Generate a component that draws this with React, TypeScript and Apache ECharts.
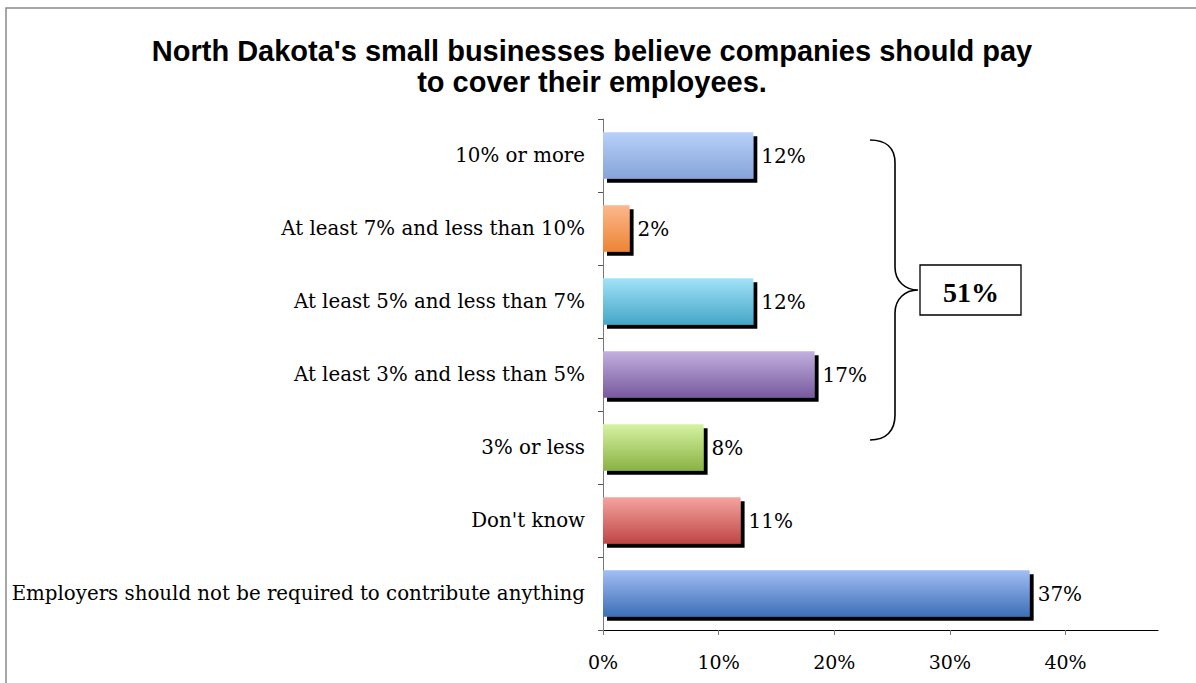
import React, { useEffect, useRef } from "react";
import * as echarts from "echarts";

const categories = [
  "10% or more",
  "At least 7% and less than 10%",
  "At least 5% and less than 7%",
  "At least 3% and less than 5%",
  "3% or less",
  "Don't know",
  "Employers should not be required to contribute anything",
];
// bar lengths as drawn (percent)
const barLengths = [13.0, 2.3, 13.0, 18.3, 8.7, 11.9, 36.9];
// printed value labels
const valueLabels = ["12%", "2%", "12%", "17%", "8%", "11%", "37%"];
const barTopColors = ["#b8d0fa", "#fbb88e", "#a2e2f9", "#c2b0de", "#d6f2a2", "#f6a4a0", "#a2bef5"];
const barBottomColors = ["#86a4d8", "#ee8434", "#44a6c6", "#77599e", "#8ab244", "#be4644", "#3c6eb6"];
const xTicks = [0, 10, 20, 30, 40];
const bracketTotal = "51%";
const title = "North Dakota's small businesses believe companies should pay\nto cover their employees.";

const bracePath =
  "M870,140 C886,140 895,148 895,163 L895,267 C895,281 905,290 918,290 C905,290 895,299 895,313 L895,415 C895,431 886,440 870,440";

let registered = false;

export default function App() {
  const ref = useRef<HTMLDivElement>(null);
  useEffect(() => {
    if (!registered) {
      echarts.graphic.registerShape("brace", echarts.graphic.extendPath(bracePath, {}));
      registered = true;
    }
    const chart = echarts.init(ref.current!, null, { renderer: "svg" });
    const serif = "DejaVu Serif";
    chart.setOption({
      animation: false,
      backgroundColor: "#ffffff",
      title: {
        text: title,
        left: 587,
        top: 30,
        textAlign: "center",
        textStyle: {
          fontFamily: "Liberation Sans",
          fontWeight: "bold",
          fontSize: 29,
          lineHeight: 31,
          color: "#000",
        },
      },
      grid: { left: 603, top: 119, right: 38, bottom: 53, containLabel: false },
      xAxis: {
        type: "value",
        min: 0,
        max: 48,
        interval: 10,
        splitLine: { show: false },
        axisLine: { show: true, lineStyle: { color: "#000", width: 1 } },
        axisTick: { show: true, length: 5, lineStyle: { color: "#777" }, customValues: xTicks },
        axisLabel: {
          customValues: xTicks,
          formatter: (v: number) => `${v}%`,
          fontFamily: serif,
          fontSize: 19,
          color: "#000",
          margin: 22,
        },
      },
      yAxis: {
        type: "category",
        inverse: true,
        data: categories,
        axisLine: { show: true, lineStyle: { color: "#777", width: 1 } },
        axisTick: { show: true, length: 5, lineStyle: { color: "#555" } },
        axisLabel: { fontFamily: serif, fontSize: 19.8, color: "#000", margin: 18 },
      },
      series: [
        {
          type: "bar",
          barCategoryGap: "36%",
          data: barLengths.map((v, i) => ({
            value: v,
            itemStyle: {
              color: new echarts.graphic.LinearGradient(0, 0, 0, 1, [
                { offset: 0, color: barTopColors[i] },
                { offset: 1, color: barBottomColors[i] },
              ]),
              shadowColor: "#000",
              shadowOffsetX: 4,
              shadowOffsetY: 4,
              shadowBlur: 0,
            },
          })),
          label: {
            show: true,
            position: "right",
            distance: 8,
            formatter: (p: any) => valueLabels[p.dataIndex],
            fontFamily: serif,
            fontSize: 20,
            color: "#000",
          },
        },
      ],
      graphic: [
        {
          type: "rect",
          shape: { x: 6, y: 8, width: 1200, height: 700 },
          style: { fill: "none", stroke: "#8a8a8a", lineWidth: 1.5 },
          silent: true,
        },
        {
          type: "brace",
          x: 0,
          y: 0,
          style: { fill: "none", stroke: "#000", lineWidth: 1.6 },
        },
        {
          type: "rect",
          shape: { x: 920, y: 265, width: 101, height: 50 },
          style: { fill: "#fff", stroke: "#000", lineWidth: 1.3 },
        },
        {
          type: "text",
          x: 971,
          y: 292,
          style: {
            text: bracketTotal,
            fontFamily: "Liberation Serif",
            fontWeight: "bold",
            fontSize: 28,
            fill: "#000",
            align: "center",
            verticalAlign: "middle",
          },
        },
      ],
    });
    return () => chart.dispose();
  }, []);
  return (
    <div
      ref={ref}
      style={{ position: "fixed", left: 0, top: 0, width: 1196, height: 683 }}
    />
  );
}
